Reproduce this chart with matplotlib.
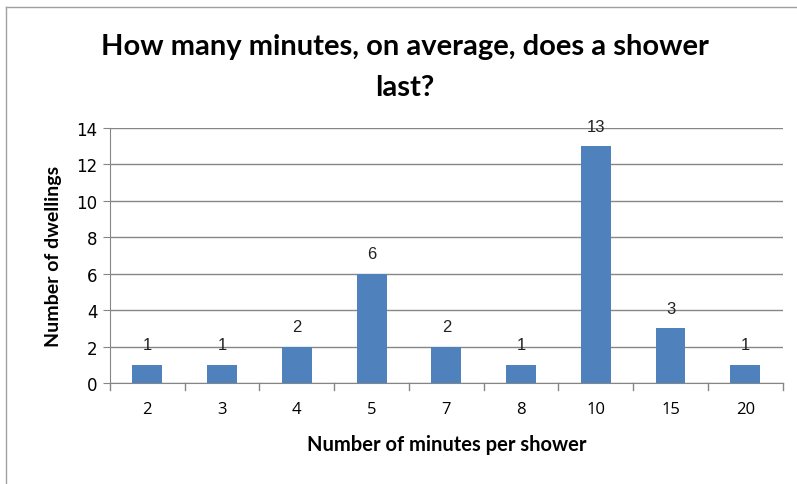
import matplotlib.pyplot as plt
from matplotlib.lines import Line2D

minutes = ["2", "3", "4", "5", "7", "8", "10", "15", "20"]
dwellings = [1, 1, 2, 6, 2, 1, 13, 3, 1]
y_ticks = [0, 2, 4, 6, 8, 10, 12, 14]

bar_color = "#4f81bd"
grid_color = "#868686"

fig = plt.figure(figsize=(7.97, 4.85), dpi=100)
ax = fig.add_axes([0.138, 0.208, 0.844, 0.526])

x = range(len(minutes))
bars = ax.bar(x, dwellings, width=0.4, color=bar_color, zorder=3)

# data labels above each bar
for rect, v in zip(bars, dwellings):
    ax.annotate(str(v), (rect.get_x() + rect.get_width() / 2, v),
                xytext=(0, 9), textcoords="offset points",
                ha="center", va="bottom", fontsize=12,
                family="Liberation Sans", color="#222222")

ax.set_xlim(-0.5, len(minutes) - 0.5)
ax.set_ylim(0, 14)
ax.set_yticks(y_ticks)
ax.yaxis.grid(True, color=grid_color, linewidth=1)
ax.set_axisbelow(True)

# category labels centred, tick marks on the boundaries
ax.set_xticks(list(x))
ax.set_xticklabels(minutes, fontsize=12, family="Open Sans")
ax.tick_params(axis="x", length=0, pad=13)
for b in [i - 0.5 for i in range(len(minutes) + 1)]:
    ax.plot([b, b], [0, -0.4], color=grid_color, lw=1, clip_on=False)

ax.tick_params(axis="y", length=5, color=grid_color, labelsize=12, pad=4)
for lab in ax.get_yticklabels():
    lab.set_family("DejaVu Sans")

for s in ["top", "right"]:
    ax.spines[s].set_visible(False)
ax.spines["left"].set_color(grid_color)
ax.spines["bottom"].set_color(grid_color)

ax.set_xlabel("Number of minutes per shower", fontsize=14.5,
              fontweight="bold", family="Lato", labelpad=12)
ax.set_ylabel("Number of dwellings", fontsize=14,
              fontweight="bold", family="Lato", labelpad=10)

fig.text(0.508, 0.861, "How many minutes, on average, does a shower\nlast?",
         ha="center", va="center", fontsize=21, fontweight="bold",
         family="Lato", linespacing=1.68)

# chart area border (left and top visible)
fig.add_artist(Line2D([0.007, 0.007], [0, 0.984], color="#a0a0a0", lw=1))
fig.add_artist(Line2D([0.007, 1], [0.984, 0.984], color="#a0a0a0", lw=1))

fig.savefig("out.png", dpi=100)
